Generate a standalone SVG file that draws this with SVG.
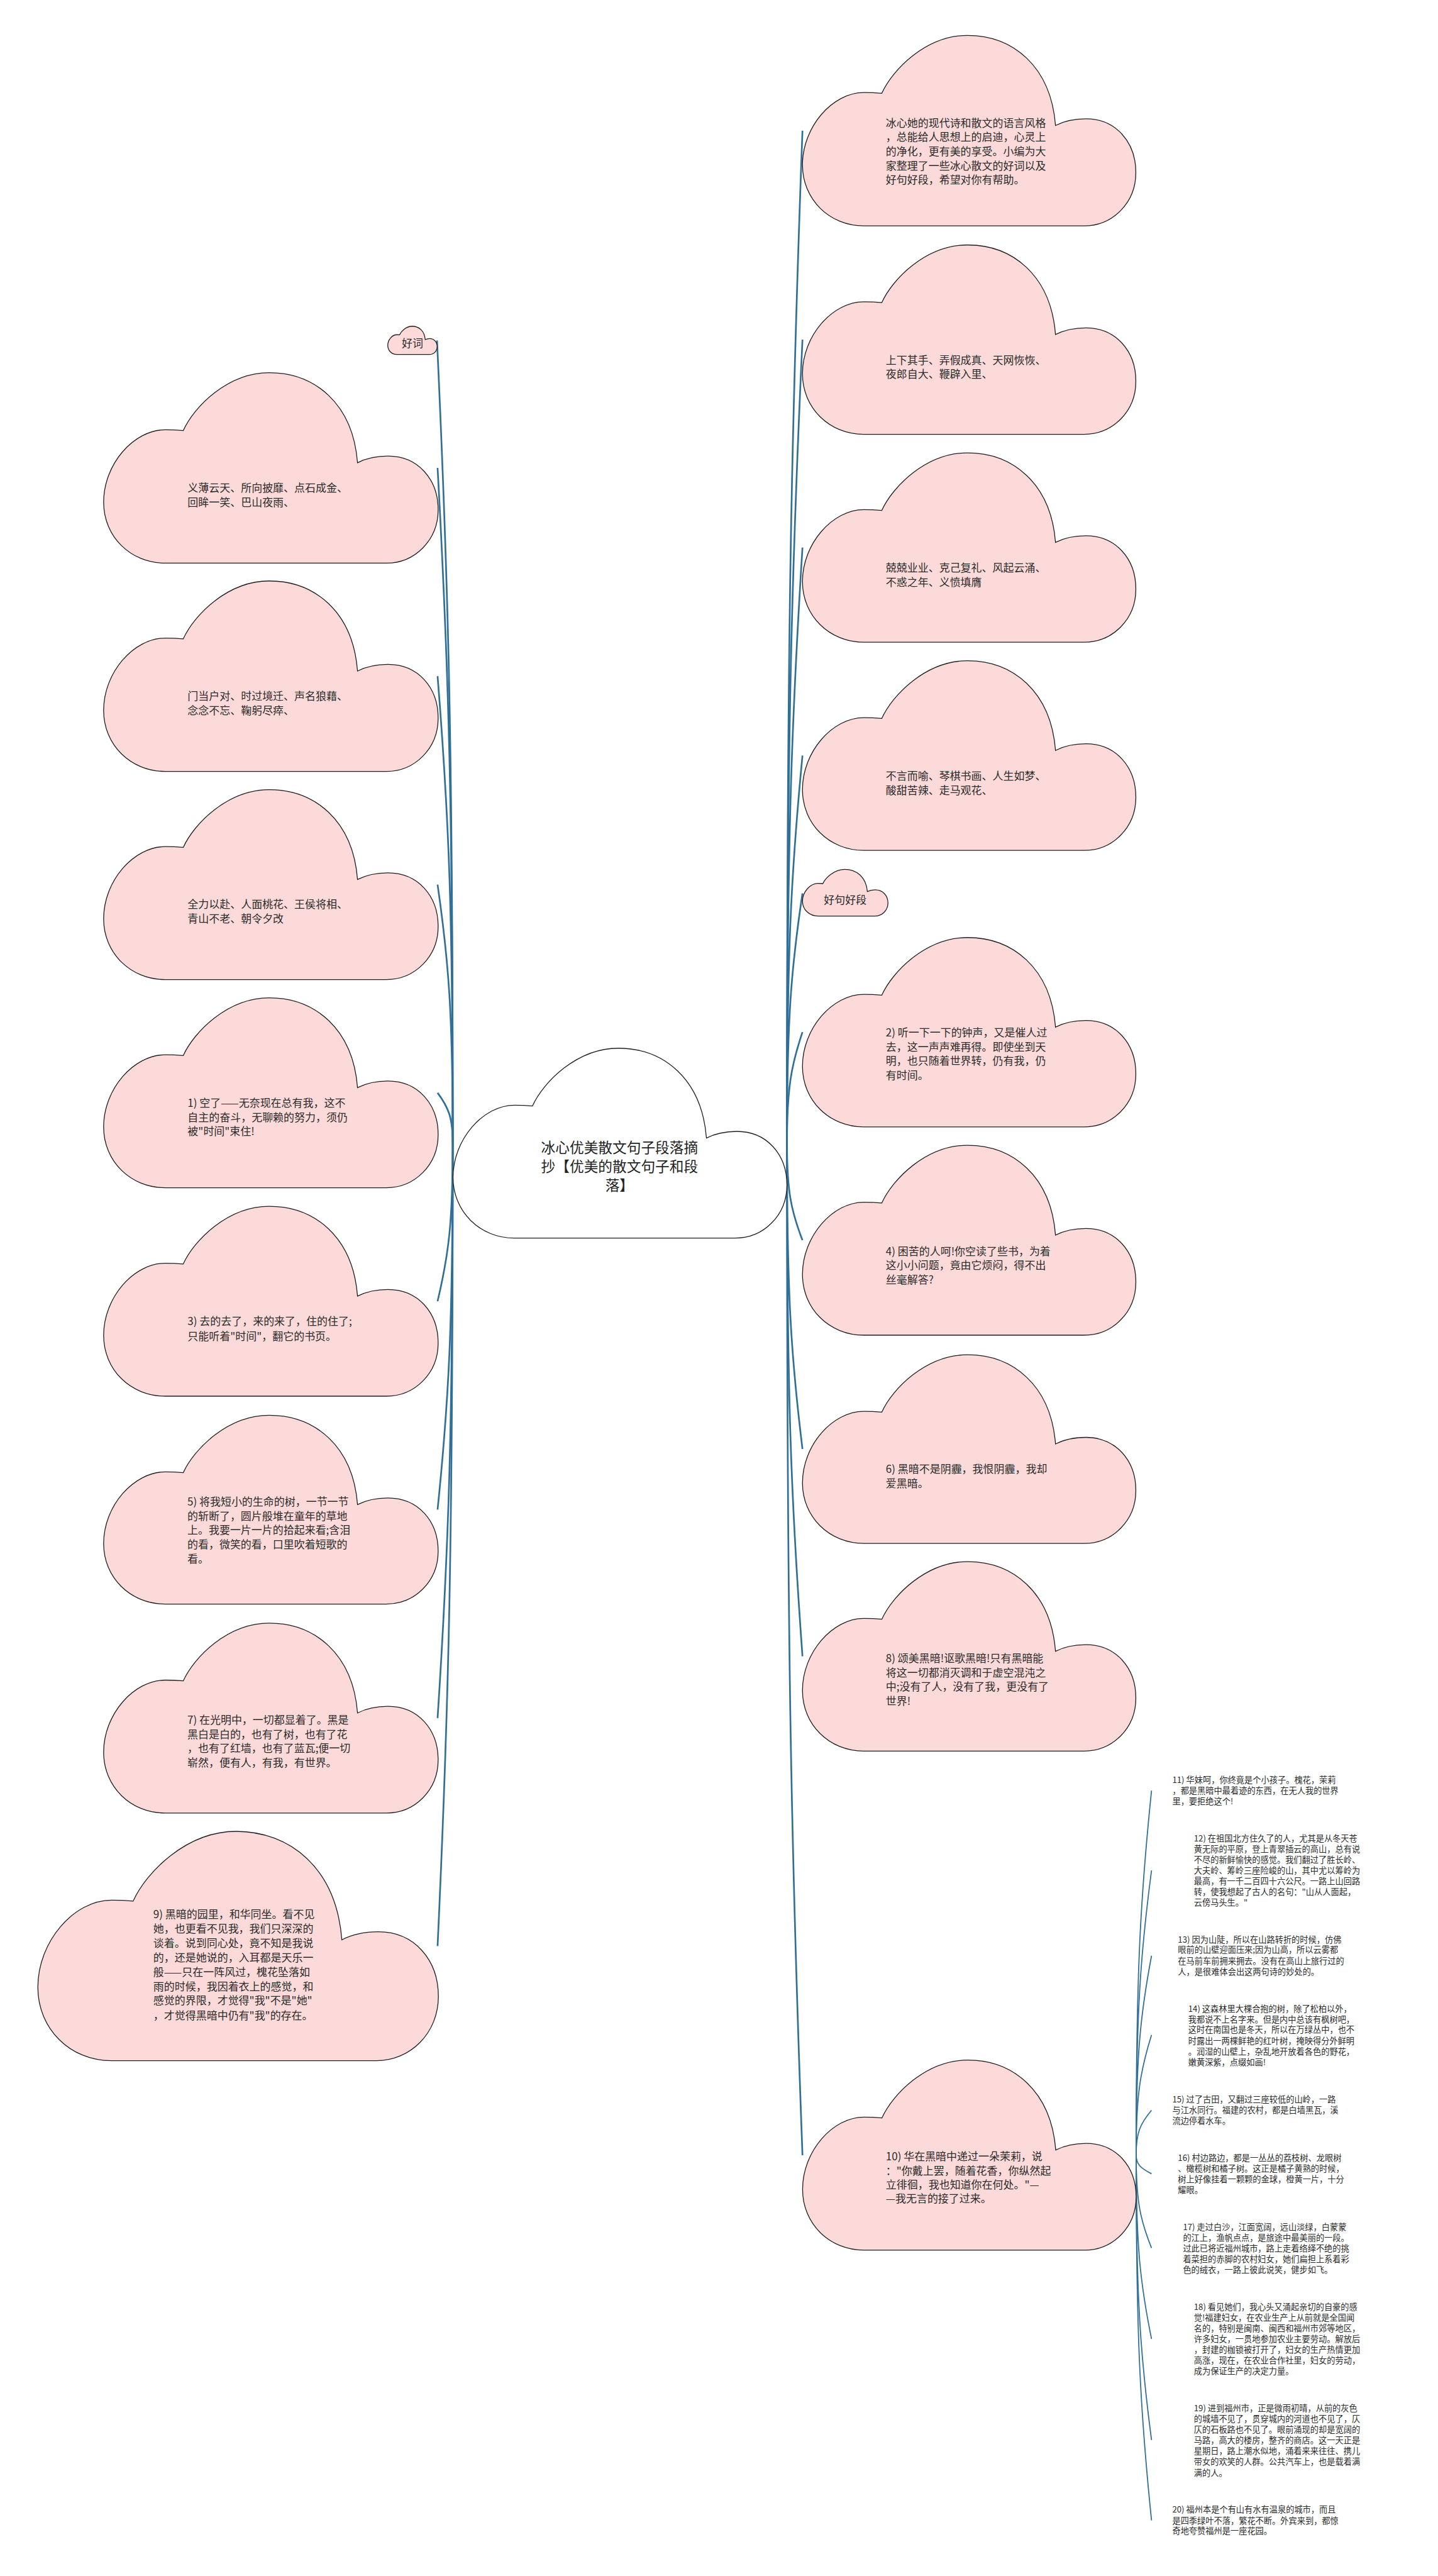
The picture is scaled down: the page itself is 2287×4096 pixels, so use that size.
<svg xmlns="http://www.w3.org/2000/svg" width="2287" height="4096" viewBox="0 0 2287 4096">
<defs>
<path id="cloud" vector-effect="non-scaling-stroke" d="M18.4,100 C8,100 0,86 0,68 C0,48 9,30 18.4,30 C20.5,30 22.5,30.2 23.8,30.4 C27,18 37,0 49.5,0 C63,0 74.5,16 75.9,47.3 C79,44.5 82,43.8 85,43.8 C94,43.8 100,56 100,72 C100,88 93,100 84.5,100 Z"/>
<style>
.cl{fill:#fbdad9;stroke:#1e1e1e;stroke-width:1.3}
.rt{fill:#ffffff;stroke:#1e1e1e;stroke-width:1.3}
.t{font-family:'Noto Sans CJK SC','Noto Sans',sans-serif;font-size:19px;fill:#2b2b2b}
.tm{font-family:'Noto Sans CJK SC','Noto Sans',sans-serif;font-size:25.4px;fill:#222;text-anchor:middle}
.tc{text-anchor:middle}
.tl{font-family:'Noto Sans CJK SC','Noto Sans',sans-serif;font-size:14.8px;fill:#2b2b2b}
.c{fill:none;stroke:#306f97;stroke-width:3}
.c2{fill:none;stroke:#306f97;stroke-width:2}
</style>
</defs>
<rect width="2287" height="4096" fill="#ffffff"/>
<g transform="scale(0.89336)">
<g id="connectors">
<path class="c" d="M806,2035 C806,1320.5 798,1034.7 778,606"/>
<path class="c" d="M806,2035 C806,1433.9 799,1193.5 779,832.8"/>
<path class="c" d="M806,2035 C806,1619.3 799,1453 779,1203.5"/>
<path class="c" d="M806,2035 C806,1804.8 799,1712.7 779,1574.5"/>
<path class="c" d="M806,2035 C806,1990 799,1972 779,1945"/>
<path class="c" d="M806,2035 C806,2175.5 799,2231.7 779,2316"/>
<path class="c" d="M806,2035 C806,2361 799,2491.4 779,2687"/>
<path class="c" d="M806,2035 C806,2546.5 799,2751.1 779,3058"/>
<path class="c" d="M806,2035 C806,2749.4 799,3035.1 779,3463.7"/>
<path class="c" d="M1401,2035 C1401,1133.8 1408.6,773.3 1428.6,232.5"/>
<path class="c" d="M1401,2035 C1401,1319.8 1408.6,1033.7 1428.6,604.5"/>
<path class="c" d="M1401,2035 C1401,1504.8 1408.6,1292.7 1428.6,974.5"/>
<path class="c" d="M1401,2035 C1401,1689.9 1408.6,1551.9 1428.6,1344.8"/>
<path class="c" d="M1401,2035 C1401,1812.5 1408.6,1723.5 1428.6,1590"/>
<path class="c" d="M1401,2035 C1401,1936 1408.6,1896.4 1428.6,1837"/>
<path class="c" d="M1401,2035 C1401,2121.3 1408.6,2155.7 1428.6,2207.5"/>
<path class="c" d="M1401,2035 C1401,2307 1408.6,2415.8 1428.6,2579"/>
<path class="c" d="M1401,2035 C1401,2491.5 1408.6,2674.1 1428.6,2948"/>
<path class="c" d="M1401,2035 C1401,2935.5 1408.6,3295.7 1428.6,3836"/>
<path class="c2" d="M2022.6,3835 C2022.6,3511 2030,3381.4 2050,3187"/>
<path class="c2" d="M2022.6,3835 C2022.6,3582 2030,3480.8 2050,3329"/>
<path class="c2" d="M2022.6,3835 C2022.6,3658 2030,3587.2 2050,3481"/>
<path class="c2" d="M2022.6,3835 C2022.6,3728.5 2030,3685.9 2050,3622"/>
<path class="c2" d="M2022.6,3835 C2022.6,3795.5 2030,3779.7 2050,3756"/>
<path class="c2" d="M2022.6,3835 C2022.6,3852 2030,3858.8 2050,3869"/>
<path class="c2" d="M2022.6,3835 C2022.6,3918 2030,3951.2 2050,4001"/>
<path class="c2" d="M2022.6,3835 C2022.6,3999 2030,4064.6 2050,4163"/>
<path class="c2" d="M2022.6,3835 C2022.6,4089 2030,4190.6 2050,4343"/>
<path class="c2" d="M2022.6,3835 C2022.6,4160.5 2030,4290.7 2050,4486"/>
</g>

<g id="root">
<use href="#cloud" class="rt" transform="translate(806.5,1865.7) scale(5.944,3.38)"/>
<text class="tm"><tspan x="1103" y="2051.5">冰心优美散文句子段落摘</tspan><tspan x="1103" y="2085">抄【优美的散文句子和段</tspan><tspan x="1103" y="2118.5">落】</tspan></text>
</g>

<g id="label-haoci">
<use href="#cloud" class="cl" transform="translate(690.3,580.7) scale(0.879,0.503)"/>
<text class="t tc" x="734.2" y="618">好词</text>
</g>
<g id="L1">
<use href="#cloud" class="cl" transform="translate(184.5,663.3) scale(5.955,3.39)"/>
<text class="t"><tspan x="334" y="875.3">义薄云天、所向披靡、点石成金、</tspan><tspan x="334" y="901.5">回眸一笑、巴山夜雨、</tspan></text>
</g>
<g id="L2">
<use href="#cloud" class="cl" transform="translate(184.5,1034) scale(5.955,3.39)"/>
<text class="t"><tspan x="334" y="1246">门当户对、时过境迁、声名狼藉、</tspan><tspan x="334" y="1271.5">念念不忘、鞠躬尽瘁、</tspan></text>
</g>
<g id="L3">
<use href="#cloud" class="cl" transform="translate(184.5,1405.5) scale(5.955,3.38)"/>
<text class="t"><tspan x="334" y="1616">全力以赴、人面桃花、王侯将相、</tspan><tspan x="334" y="1642">青山不老、朝令夕改</tspan></text>
</g>
<g id="L4">
<use href="#cloud" class="cl" transform="translate(184.5,1776) scale(5.955,3.38)"/>
<text class="t"><tspan x="334" y="1970">1) 空了——无奈现在总有我，这不</tspan><tspan x="334" y="1995.6">自主的奋斗，无聊赖的努力，须仍</tspan><tspan x="334" y="2021">被"时间"束住!</tspan></text>
</g>
<g id="L5">
<use href="#cloud" class="cl" transform="translate(184.5,2147) scale(5.955,3.38)"/>
<text class="t"><tspan x="334" y="2359">3) 去的去了，来的来了，住的住了;</tspan><tspan x="334" y="2385">只能听着"时间"，翻它的书页。</tspan></text>
</g>
<g id="L6">
<use href="#cloud" class="cl" transform="translate(184.5,2519) scale(5.955,3.36)"/>
<text class="t"><tspan x="333.6" y="2679.3">5) 将我短小的生命的树，一节一节</tspan><tspan x="333.6" y="2705">的斩断了，圆片般堆在童年的草地</tspan><tspan x="333.6" y="2730.7">上。我要一片一片的拾起来看;含泪</tspan><tspan x="333.6" y="2756.4">的看，微笑的看，口里吹着短歌的</tspan><tspan x="333.6" y="2781.4">看。</tspan></text>
</g>
<g id="L7">
<use href="#cloud" class="cl" transform="translate(184.5,2889) scale(5.955,3.38)"/>
<text class="t"><tspan x="333.6" y="3068">7) 在光明中，一切都显着了。黑是</tspan><tspan x="333.6" y="3093.5">黑白是白的，也有了树，也有了花</tspan><tspan x="333.6" y="3119">，也有了红墙，也有了蓝瓦;便一切</tspan><tspan x="333.6" y="3144">崭然，便有人，有我，有世界。</tspan></text>
</g>
<g id="L8">
<use href="#cloud" class="cl" transform="translate(67.4,3259.6) scale(7.13,4.082)"/>
<text class="t"><tspan x="273" y="3414">9) 黑暗的园里，和华同坐。看不见</tspan><tspan x="273" y="3440">她，也更看不见我，我们只深深的</tspan><tspan x="273" y="3465.5">谈着。说到同心处，竟不知是我说</tspan><tspan x="273" y="3491">的，还是她说的，入耳都是天乐一</tspan><tspan x="273" y="3516.8">般——只在一阵风过，槐花坠落如</tspan><tspan x="273" y="3542.5">雨的时候，我因着衣上的感觉，和</tspan><tspan x="273" y="3568">感觉的界限，才觉得"我"不是"她"</tspan><tspan x="273" y="3594">，才觉得黑暗中仍有"我"的存在。</tspan></text>
</g>

<g id="R1">
<use href="#cloud" class="cl" transform="translate(1428.6,63) scale(5.935,3.39)"/>
<text class="t"><tspan x="1577" y="225.6">冰心她的现代诗和散文的语言风格</tspan><tspan x="1577" y="251">，总能给人思想上的启迪，心灵上</tspan><tspan x="1577" y="276.4">的净化，更有美的享受。小编为大</tspan><tspan x="1577" y="301.8">家整理了一些冰心散文的好词以及</tspan><tspan x="1577" y="327.2">好句好段，希望对你有帮助。</tspan></text>
</g>
<g id="R2">
<use href="#cloud" class="cl" transform="translate(1428.6,436) scale(5.935,3.37)"/>
<text class="t"><tspan x="1577" y="648">上下其手、弄假成真、天网恢恢、</tspan><tspan x="1577" y="673">夜郎自大、鞭辟入里、</tspan></text>
</g>
<g id="R3">
<use href="#cloud" class="cl" transform="translate(1428.6,806) scale(5.935,3.37)"/>
<text class="t"><tspan x="1577" y="1018">兢兢业业、克己复礼、风起云涌、</tspan><tspan x="1577" y="1043.5">不惑之年、义愤填膺</tspan></text>
</g>
<g id="R4">
<use href="#cloud" class="cl" transform="translate(1428.6,1176) scale(5.935,3.376)"/>
<text class="t"><tspan x="1577" y="1388">不言而喻、琴棋书画、人生如梦、</tspan><tspan x="1577" y="1413.5">酸甜苦辣、走马观花、</tspan></text>
</g>
<g id="label-haojuhaoduan">
<use href="#cloud" class="cl" transform="translate(1428.6,1547.5) scale(1.522,0.83)"/>
<text class="t tc" x="1504.7" y="1608">好句好段</text>
</g>
<g id="R5">
<use href="#cloud" class="cl" transform="translate(1428.6,1668.7) scale(5.935,3.37)"/>
<text class="t"><tspan x="1577" y="1844.5">2) 听一下一下的钟声，又是催人过</tspan><tspan x="1577" y="1870">去，这一声声难再得。即使坐到天</tspan><tspan x="1577" y="1895.5">明，也只随着世界转，仍有我，仍</tspan><tspan x="1577" y="1921">有时间。</tspan></text>
</g>
<g id="R6">
<use href="#cloud" class="cl" transform="translate(1428.6,2038.4) scale(5.935,3.38)"/>
<text class="t"><tspan x="1577" y="2234">4) 困苦的人呵!你空读了些书，为着</tspan><tspan x="1577" y="2259.3">这小小问题，竟由它烦闷，得不出</tspan><tspan x="1577" y="2284.6">丝毫解答?</tspan></text>
</g>
<g id="R7">
<use href="#cloud" class="cl" transform="translate(1428.6,2411.3) scale(5.935,3.357)"/>
<text class="t"><tspan x="1577" y="2621.6">6) 黑暗不是阴霾，我恨阴霾，我却</tspan><tspan x="1577" y="2647">爱黑暗。</tspan></text>
</g>
<g id="R8">
<use href="#cloud" class="cl" transform="translate(1428.6,2779.5) scale(5.935,3.372)"/>
<text class="t"><tspan x="1577" y="2958.7">8) 颂美黑暗!讴歌黑暗!只有黑暗能</tspan><tspan x="1577" y="2984">将这一切都消灭调和于虚空混沌之</tspan><tspan x="1577" y="3009.3">中;没有了人，没有了我，更没有了</tspan><tspan x="1577" y="3034.6">世界!</tspan></text>
</g>
<g id="R9">
<use href="#cloud" class="cl" transform="translate(1428.8,3666.7) scale(5.938,3.383)"/>
<text class="t"><tspan x="1577" y="3845.3">10) 华在黑暗中递过一朵茉莉，说</tspan><tspan x="1577" y="3870.3">："你戴上罢，随着花香，你纵然起</tspan><tspan x="1577" y="3895.3">立徘徊，我也知道你在何处。"—</tspan><tspan x="1577" y="3920.3">—我无言的接了过来。</tspan></text>
</g>

<g id="item11">
<text class="tl"><tspan x="2087" y="3173.8">11) 华妹呵，你终竟是个小孩子。槐花，茉莉</tspan><tspan x="2087" y="3192.8">，都是黑暗中最着迹的东西，在无人我的世界</tspan><tspan x="2087" y="3211.5">里，要拒绝这个!</tspan></text>
</g>
<g id="item12">
<text class="tl"><tspan x="2125.4" y="3277.2">12) 在祖国北方住久了的人，尤其是从冬天苍</tspan><tspan x="2125.4" y="3296.5">黄无际的平原，登上青翠插云的高山，总有说</tspan><tspan x="2125.4" y="3315.5">不尽的新鲜愉快的感觉。我们翻过了胜长岭、</tspan><tspan x="2125.4" y="3334.5">大夫岭、筹岭三座险峻的山，其中尤以筹岭为</tspan><tspan x="2125.4" y="3353.8">最高，有一千二百四十六公尺。一路上山回路</tspan><tspan x="2125.4" y="3372.8">转，使我想起了古人的名句："山从人面起，</tspan><tspan x="2125.4" y="3391.5">云傍马头生。"</tspan></text>
</g>
<g id="item13">
<text class="tl"><tspan x="2097" y="3457.2">13) 因为山陡，所以在山路转折的时候，仿佛</tspan><tspan x="2097" y="3476.2">眼前的山壁迎面压来;因为山高，所以云雾都</tspan><tspan x="2097" y="3495.5">在马前车前拥来拥去。没有在高山上旅行过的</tspan><tspan x="2097" y="3514.5">人，是很难体会出这两句诗的妙处的。</tspan></text>
</g>
<g id="item14">
<text class="tl"><tspan x="2115.3" y="3580.5">14) 这森林里大棵合抱的树，除了松柏以外，</tspan><tspan x="2115.3" y="3599.5">我都说不上名字来。但是内中总该有枫树吧，</tspan><tspan x="2115.3" y="3618.2">这时在南国也是冬天，所以在万绿丛中，也不</tspan><tspan x="2115.3" y="3638">时露出一两棵鲜艳的红叶树，掩映得分外鲜明</tspan><tspan x="2115.3" y="3657.2">。润湿的山壁上，杂乱地开放着各色的野花，</tspan><tspan x="2115.3" y="3676.2">嫩黄深紫，点缀如画!</tspan></text>
</g>
<g id="item15">
<text class="tl"><tspan x="2087" y="3742.2">15) 过了古田，又翻过三座较低的山岭，一路</tspan><tspan x="2087" y="3761.2">与江水同行。福建的农村，都是白墙黑瓦，溪</tspan><tspan x="2087" y="3779.8">流边停着水车。</tspan></text>
</g>
<g id="item16">
<text class="tl"><tspan x="2097" y="3846.2">16) 村边路边，都是一丛丛的荔枝树、龙眼树</tspan><tspan x="2097" y="3864.8">、橄榄树和橘子树。这正是橘子黄熟的时候，</tspan><tspan x="2097" y="3883.8">树上好像挂着一颗颗的金球，橙黄一片，十分</tspan><tspan x="2097" y="3902.8">耀眼。</tspan></text>
</g>
<g id="item17">
<text class="tl"><tspan x="2106" y="3968.8">17) 走过白沙，江面宽阔，远山淡绿，白蒙蒙</tspan><tspan x="2106" y="3988.2">的江上，渔帆点点，是旅途中最美丽的一段。</tspan><tspan x="2106" y="4007.2">过此已将近福州城市，路上走着络绎不绝的挑</tspan><tspan x="2106" y="4026.2">着菜担的赤脚的农村妇女，她们扁担上系着彩</tspan><tspan x="2106" y="4045.5">色的绒衣，一路上彼此说笑，健步如飞。</tspan></text>
</g>
<g id="item18">
<text class="tl"><tspan x="2125.4" y="4111.5">18) 看见她们，我心头又涌起亲切的自豪的感</tspan><tspan x="2125.4" y="4130.5">觉!福建妇女，在农业生产上从前就是全国闻</tspan><tspan x="2125.4" y="4149.5">名的，特别是闽南、闽西和福州市郊等地区，</tspan><tspan x="2125.4" y="4168.5">许多妇女，一贯地参加农业主要劳动。解放后</tspan><tspan x="2125.4" y="4187.5">，封建的枷锁被打开了，妇女的生产热情更加</tspan><tspan x="2125.4" y="4206.5">高涨，现在，在农业合作社里，妇女的劳动，</tspan><tspan x="2125.4" y="4225.5">成为保证生产的决定力量。</tspan></text>
</g>
<g id="item19">
<text class="tl"><tspan x="2125.4" y="4291.5">19) 进到福州市，正是微雨初晴，从前的灰色</tspan><tspan x="2125.4" y="4311.2">的城墙不见了，贯穿城内的河道也不见了，仄</tspan><tspan x="2125.4" y="4329.8">仄的石板路也不见了。眼前涌现的却是宽阔的</tspan><tspan x="2125.4" y="4348.8">马路，高大的楼房，整齐的商店。这一天正是</tspan><tspan x="2125.4" y="4367.8">星期日，路上潮水似地，涌着来来往往、携儿</tspan><tspan x="2125.4" y="4387.2">带女的欢笑的人群。公共汽车上，也是载着满</tspan><tspan x="2125.4" y="4406.5">满的人。</tspan></text>
</g>
<g id="item20">
<text class="tl"><tspan x="2087" y="4472.2">20) 福州本是个有山有水有温泉的城市，而且</tspan><tspan x="2087" y="4491.5">是四季绿叶不落，繁花不断。外宾来到，都惊</tspan><tspan x="2087" y="4510.5">奇地夸赞福州是一座花园。</tspan></text>
</g>
</g>
</svg>
